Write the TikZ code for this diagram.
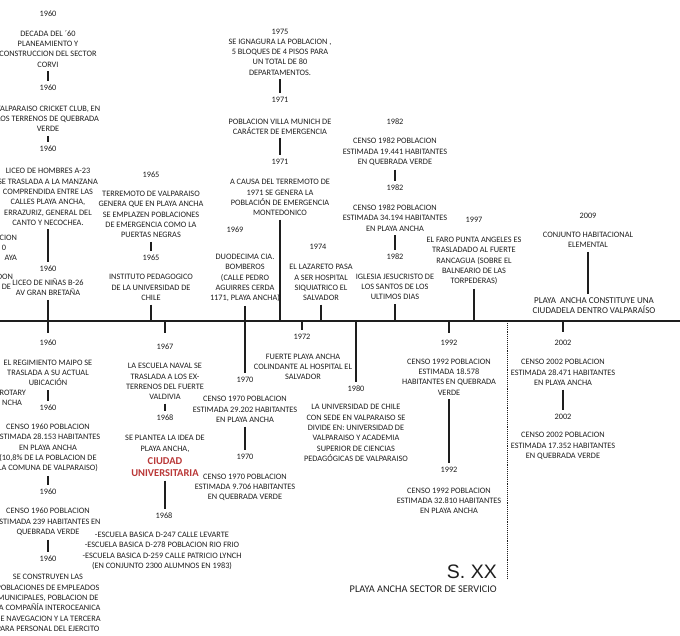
\documentclass[tikz,border=0pt]{standalone}
\usepackage{fontspec}
\setmainfont{Carlito}
\newfontfamily\arialfont{Liberation Sans}
\usepackage{tikz}
\usetikzlibrary{calc}
\definecolor{inkgray}{RGB}{30,30,30}
\definecolor{unired}{RGB}{185,55,55}
\newcommand{\evtsize}{\fontsize{8.3}{10.3}\selectfont}
\newcommand{\univ}{\fontsize{10.5}{12}\selectfont\bfseries\color{unired}}
\newcommand{\citysize}{\fontsize{9}{9.4}\selectfont}

\begin{document}
\begin{tikzpicture}[x=1pt, y=-1pt,
  txt/.style={font=\evtsize, text=inkgray, align=center, inner sep=0pt, outer sep=4pt},
  frag/.style={txt, anchor=east, outer sep=0pt},
  stem/.style={line width=1.6pt, draw=inkgray},
  sepline/.style={densely dotted, line width=0.9pt, draw=inkgray}]
  \useasboundingbox (0,0) rectangle (680,635);
  % Time axis
  \coordinate (axL) at (0,321);
  \coordinate (axR) at (680,321);
  \draw[stem] (axL) -- (axR);
  % Cut fragments on the left edge
  \node[frag] (fr1) at (17,238) {CION};
  \node[frag] (fr2) at (6,248) {0};
  \node[frag] (fr3) at (17,258) {AYA};
  \node[frag] (fr4) at (13,277) {DON};
  \node[frag] (fr5) at (11,287) {DE};
  \node[frag] (fr6) at (26,393) {ROTARY};
  \node[frag] (fr7) at (22,403) {NCHA};
  % 1960
  \def\ox{48}
  \node[txt] (a1) at (\ox,14) {1960};
  \node[txt] (a2) at (\ox,49) {DECADA DEL ´60\\PLANEAMIENTO Y\\CONSTRUCCION DEL SECTOR\\CORVI};
  \node[txt] (a3) at (\ox,88) {1960};
  \node[txt] (a4) at (\ox,119) {VALPARAISO CRICKET CLUB, EN\\LOS TERRENOS DE QUEBRADA\\VERDE};
  \node[txt] (a5) at (\ox,149) {1960};
  \node[txt] (a6) at (\ox,197) {LICEO DE HOMBRES A-23\\SE TRASLADA A LA MANZANA\\COMPRENDIDA ENTRE LAS\\CALLES PLAYA ANCHA,\\ERRAZURIZ, GENERAL DEL\\CANTO Y NECOCHEA.};
  \node[txt] (a7) at (\ox,269) {1960};
  \node[txt] (a8) at (\ox,287.5) {LICEO DE NIÑAS B-26\\AV GRAN BRETAÑA};
  \node[txt] (a9) at (\ox,343) {1960};
  \node[txt] (a10) at (\ox,373) {EL REGIMIENTO MAIPO SE\\TRASLADA A SU ACTUAL\\UBICACIÓN};
  \node[txt] (a11) at (\ox,408) {1960};
  \node[txt] (a12) at (\ox,448) {CENSO 1960 POBLACION\\ESTIMADA 28.153 HABITANTES\\EN PLAYA ANCHA\\(10,8\% DE LA POBLACION DE\\LA COMUNA DE VALPARAISO)};
  \node[txt] (a13) at (\ox,492) {1960};
  \node[txt] (a14) at (\ox,522) {CENSO 1960 POBLACION\\ESTIMADA 239 HABITANTES EN\\QUEBRADA VERDE};
  \node[txt] (a15) at (\ox,559) {1960};
  \node[txt] (a16) at (\ox,603) {SE CONSTRUYEN LAS\\POBLACIONES DE EMPLEADOS\\MUNICIPALES, POBLACION DE\\LA COMPAÑÍA INTEROCEANICA\\DE NAVEGACION Y LA TERCERA\\PARA PERSONAL DEL EJERCITO};
  \draw[stem] (a2) -- (a3);
  \draw[stem] (a4) -- (a5);
  \draw[stem] (a6) -- (a7);
  \draw[stem, shorten >=3pt] (a8) -- (a9);
  \draw[stem] (a10) -- (a11);
  \draw[stem] (a12) -- (a13);
  \draw[stem] (a14) -- (a15);
  % 1965
  \def\ox{151}
  \node[txt] (b1) at (\ox,175) {1965};
  \node[txt] (b2) at (\ox,214.5) {TERREMOTO DE VALPARAISO\\GENERA QUE EN PLAYA ANCHA\\SE EMPLAZEN POBLACIONES\\DE EMERGENCIA COMO LA\\PUERTAS NEGRAS};
  \node[txt] (b3) at (\ox,258) {1965};
  \node[txt] (b4) at (\ox,287.5) {INSTITUTO PEDAGOGICO\\DE LA UNIVERSIDAD DE\\CHILE};
  \draw[stem] (b2) -- (b3);
  \draw[stem] (b4) -- (b4 |- axL);
  % 1967 - 1968
  \def\ox{165}
  \node[txt] (c1) at (\ox,347) {1967};
  \node[txt] (c2) at (\ox,381.5) {LA ESCUELA NAVAL SE\\TRASLADA A LOS EX-\\TERRENOS DEL FUERTE\\VALDIVIA};
  \node[txt] (c3) at (\ox,418) {1968};
  \node[txt] (c4) at (\ox,456) {SE PLANTEA LA IDEA DE\\PLAYA ANCHA,\\[3pt]{\univ CIUDAD}\\[1.7pt]{\univ UNIVERSITARIA}};
  \node[txt] (c5) at (164,516) {1968};
  \node[txt] (c6) at (162,551) {-ESCUELA BASICA D-247 CALLE LEVARTE\\-ESCUELA BASICA D-278 POBLACION RIO FRIO\\-ESCUELA BASICA D-259 CALLE PATRICIO LYNCH\\(EN CONJUNTO 2300 ALUMNOS EN 1983)};
  \draw[stem, shorten >=7pt] (c1 |- axL) -- (c1);
  \draw[stem] (c2) -- (c3);
  \draw[stem] (c4) -- (c4 |- c5.north);
  % 1969 - 1970
  \def\ox{245}
  \node[txt] (d1) at (235,230) {1969};
  \node[txt] (d2) at (\ox,278) {DUODECIMA CIA.\\BOMBEROS\\(CALLE PEDRO\\AGUIRRES CERDA\\1171, PLAYA ANCHA)};
  \node[txt] (d3) at (\ox,380) {1970};
  \node[txt] (d4) at (\ox,409.5) {CENSO 1970 POBLACION\\ESTIMADA 29.202 HABITANTES\\EN PLAYA ANCHA};
  \node[txt] (d5) at (\ox,457) {1970};
  \node[txt] (d6) at (\ox,487.5) {CENSO 1970 POBLACION\\ESTIMADA 9.706 HABITANTES\\EN QUEBRADA VERDE};
  \draw[stem] (d2) -- (d3);
  \draw[stem] (d4) -- (d5);
  % 1975 - 1971
  \def\ox{280}
  \node[txt] (e1) at (\ox,32) {1975};
  \node[txt] (e2) at (\ox,57) {SE IGNAGURA LA POBLACION ,\\5 BLOQUES DE 4 PISOS PARA\\UN TOTAL DE 80\\DEPARTAMENTOS.};
  \node[txt] (e3) at (\ox,100) {1971};
  \node[txt] (e4) at (\ox,126.5) {POBLACION VILLA MUNICH DE\\CARÁCTER DE EMERGENCIA};
  \node[txt] (e5) at (\ox,162) {1971};
  \node[txt] (e6) at (\ox,197.5) {A CAUSA DEL TERREMOTO DE\\1971 SE GENERA LA\\POBLACIÓN DE EMERGENCIA\\MONTEDONICO};
  \draw[stem] (e2) -- (e3);
  \draw[stem] (e4) -- (e5);
  \draw[stem] (e6) -- (e6 |- axL);
  % 1974
  \node[txt] (f1) at (318,247) {1974};
  \node[txt] (f2) at (321,282.5) {EL LAZARETO PASA\\A SER HOSPITAL\\SIQUIATRICO EL\\SALVADOR};
  \draw[stem] (f2) -- (f2 |- axL);
  % 1972
  \node[txt] (g1) at (302,337) {1972};
  \node[txt] (g2) at (303,367) {FUERTE PLAYA ANCHA\\COLINDANTE AL HOSPITAL EL\\SALVADOR};
  \draw[stem] (g1 |- axL) -- (g1);
  % 1980
  \node[txt] (h1) at (356,389) {1980};
  \node[txt] (h2) at (356,433) {LA UNIVERSIDAD DE CHILE\\CON SEDE EN VALPARAISO SE\\DIVIDE EN: UNIVERSIDAD DE\\VALPARAISO Y ACADEMIA\\SUPERIOR DE CIENCIAS\\PEDAGÓGICAS DE VALPARAISO};
  \draw[stem] (h1 |- axL) -- (h1);
  % 1982
  \def\ox{395}
  \node[txt] (i1) at (\ox,122) {1982};
  \node[txt] (i2) at (\ox,152) {CENSO 1982 POBLACION\\ESTIMADA 19.441 HABITANTES\\EN QUEBRADA VERDE};
  \node[txt] (i3) at (\ox,188) {1982};
  \node[txt] (i4) at (\ox,218) {CENSO 1982 POBLACION\\ESTIMADA 34.194 HABITANTES\\EN PLAYA ANCHA};
  \node[txt] (i5) at (\ox,257) {1982};
  \node[txt] (i6) at (\ox,287) {IGLESIA JESUCRISTO DE\\LOS SANTOS DE LOS\\ULTIMOS DIAS};
  \draw[stem] (i2) -- (i3);
  \draw[stem] (i4) -- (i5);
  \draw[stem] (i6) -- (i6 |- axL);
  % 1997
  \node[txt] (j1) at (474,220) {1997};
  \node[txt] (j2) at (474,261) {EL FARO PUNTA ANGELES ES\\TRASLADADO AL FUERTE\\RANCAGUA (SOBRE EL\\BALNEARIO DE LAS\\TORPEDERAS)};
  \draw[stem] (j2) -- (j2 |- axL);
  % 2009
  \node[txt] (k1) at (588,216) {2009};
  \node[txt] (k2) at (588,240) {CONJUNTO HABITACIONAL\\ELEMENTAL};
  \node[txt, font=\citysize] (k3) at (594,305.5) {PLAYA~ ANCHA CONSTITUYE UNA\\CIUDADELA DENTRO VALPARAÍSO};
  \draw[stem] (k2) -- (k2 |- k3.north);
  % 1992
  \def\ox{449}
  \node[txt] (l1) at (\ox,343) {1992};
  \node[txt] (l2) at (\ox,377) {CENSO 1992 POBLACION\\ESTIMADA 18.578\\HABITANTES EN QUEBRADA\\VERDE};
  \node[txt] (l3) at (\ox,470) {1992};
  \node[txt] (l4) at (\ox,501) {CENSO 1992 POBLACION\\ESTIMADA 32.810 HABITANTES\\EN PLAYA ANCHA};
  \draw[stem, shorten >=3pt] (l1 |- axL) -- (l1);
  \draw[stem] (l2) -- (l3);
  % 2002
  \def\ox{563}
  \node[txt] (m1) at (\ox,343) {2002};
  \node[txt] (m2) at (\ox,372.5) {CENSO 2002 POBLACION\\ESTIMADA 28.471 HABITANTES\\EN PLAYA ANCHA};
  \node[txt] (m3) at (\ox,417) {2002};
  \node[txt] (m4) at (\ox,446) {CENSO 2002 POBLACION\\ESTIMADA 17.352 HABITANTES\\EN QUEBRADA VERDE};
  \draw[stem, shorten >=4pt] (m1 |- axL) -- (m1);
  \draw[stem] (m2) -- (m3);
  % S. XX
  \coordinate (sepTop) at (507,321);
  \coordinate (sepEnd) at (507,578);
  \draw[sepline] (sepTop) -- (sepEnd);
  \node[anchor=east, inner sep=0pt, text=inkgray, font=\arialfont\fontsize{19.5}{20}\selectfont] (sxx) at (497,572) {S. XX};
  \node[anchor=east, inner sep=0pt, text=inkgray, font=\fontsize{10.3}{12}\selectfont] (sector) at (497,589) {PLAYA ANCHA SECTOR DE SERVICIO};
\end{tikzpicture}
\end{document}
